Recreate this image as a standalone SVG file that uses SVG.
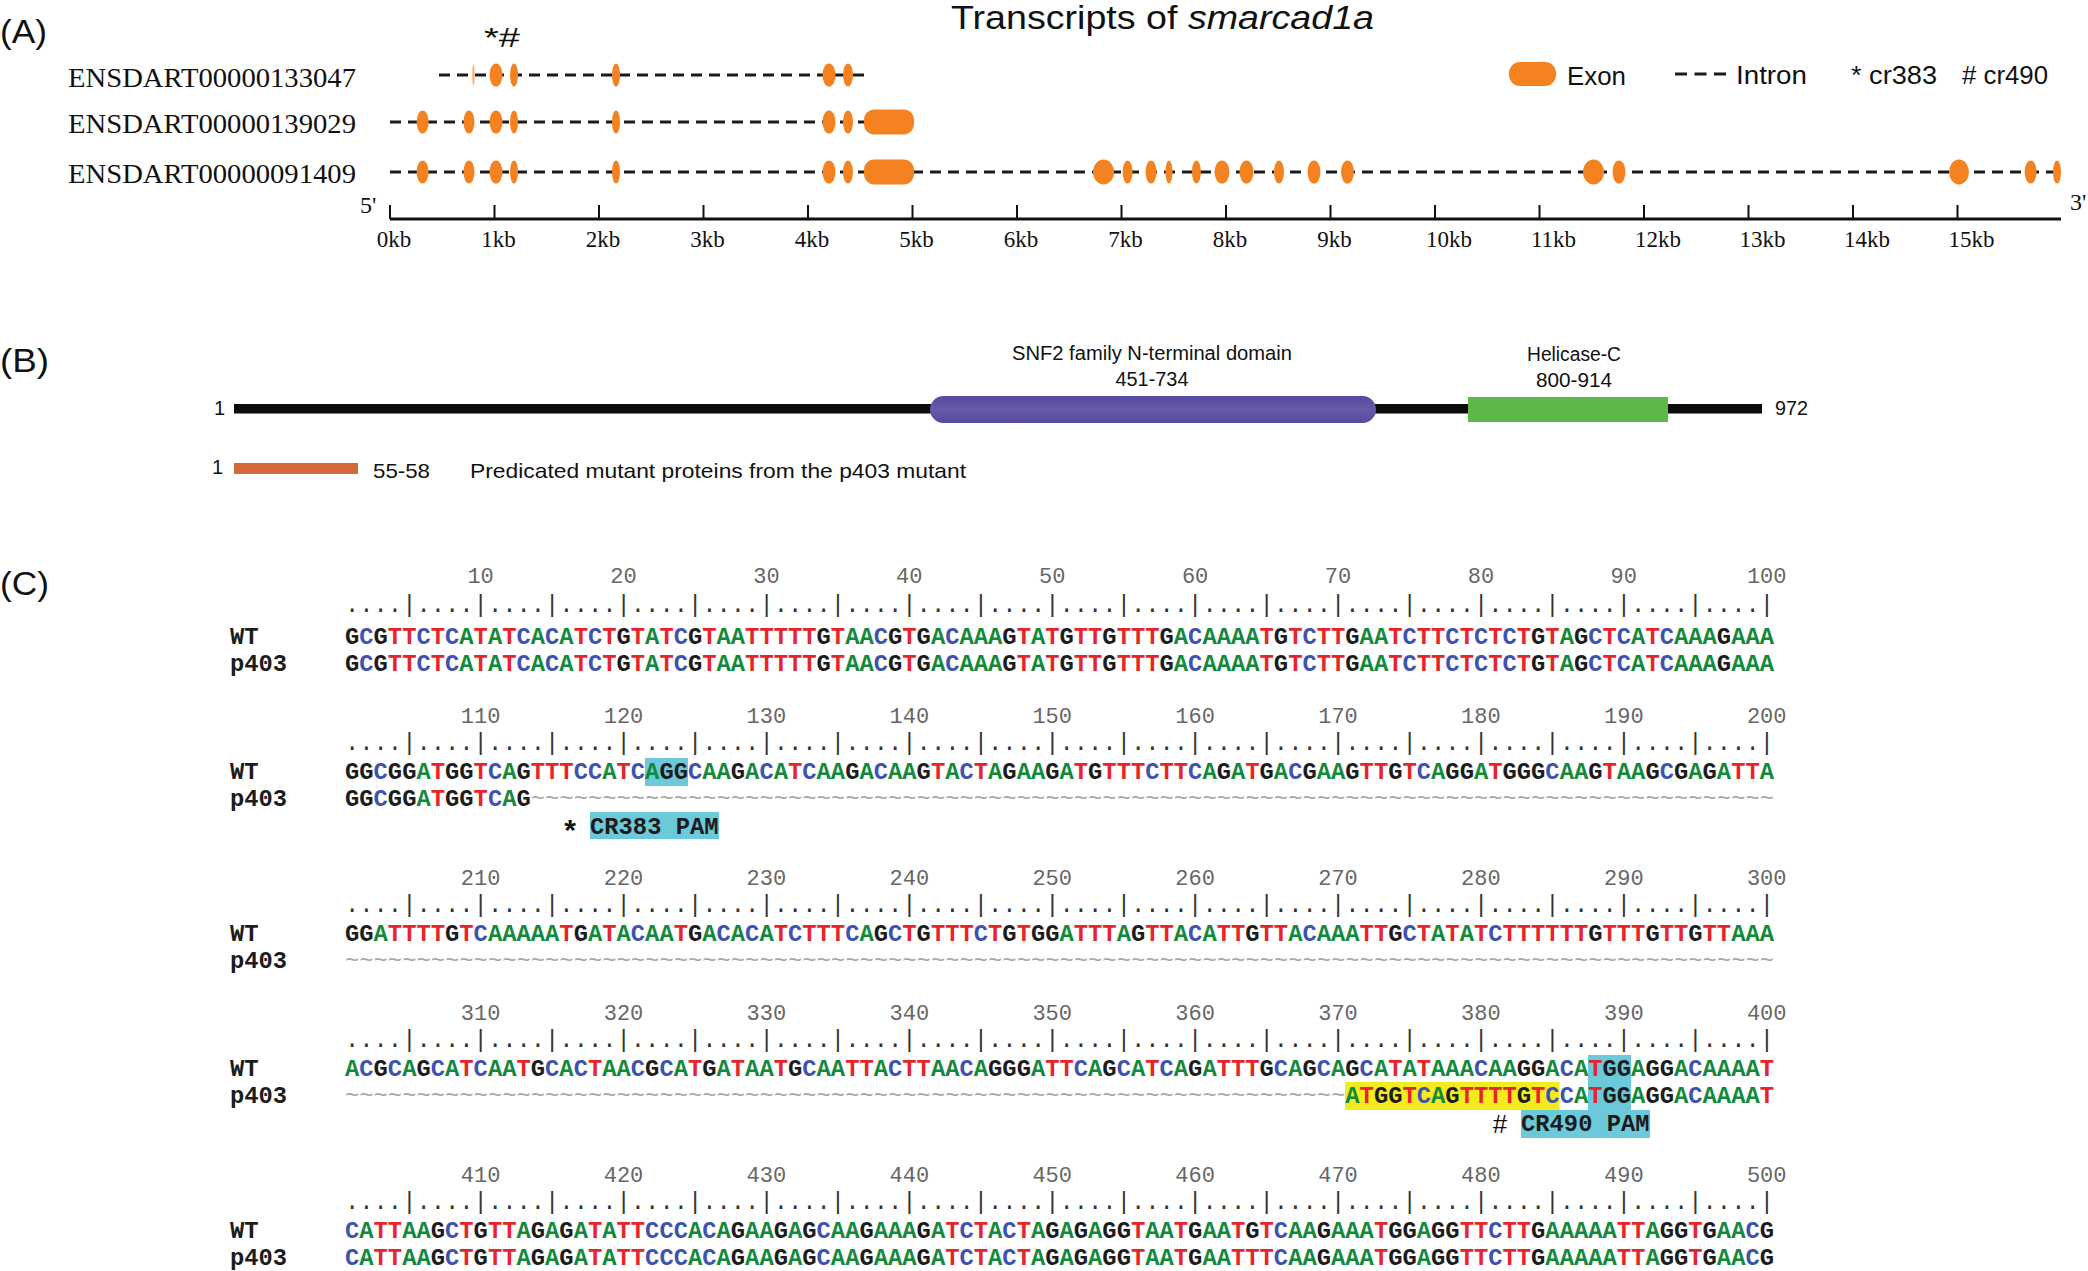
<svg xmlns="http://www.w3.org/2000/svg" width="2088" height="1271" viewBox="0 0 2088 1271">
<defs>
<style>
.pl{font-family:"Liberation Sans",Arial,sans-serif;font-size:34px;fill:#111}
.cd{font-family:"Liberation Sans Narrow","Liberation Sans",Arial,sans-serif;fill:#111}
.sf{font-family:"Liberation Serif","Times New Roman",serif;fill:#111}
.dash{stroke:#1a1a1a;stroke-width:3;stroke-dasharray:11 7;fill:none}
.ex{fill:#f58220}
.sq{font-family:"Liberation Mono","Courier New",monospace;font-weight:bold;font-size:23.8px;fill:#1c1c1c}
.lab{font-family:"Liberation Mono","Courier New",monospace;font-weight:bold;font-size:23.8px;fill:#1c1c1c}
.rul{font-family:"Liberation Mono","Courier New",monospace;font-size:23.8px;fill:#333}
.num{font-family:"Liberation Mono","Courier New",monospace;font-size:22px;fill:#666;text-anchor:middle}
.a{fill:#13893b}.c{fill:#3d52b1}.t{fill:#e8232a}.n{fill:#a9a9a9;font-weight:normal}
.hc{fill:#6cc9da}.hy{fill:#f3eb1e}
</style>
<linearGradient id="pur" x1="0" y1="0" x2="0" y2="1">
<stop offset="0" stop-color="#524c9e"/><stop offset="0.5" stop-color="#6b58aa"/><stop offset="1" stop-color="#524c9e"/>
</linearGradient>
</defs>
<rect width="2088" height="1271" fill="#fff"/>

<g id="panelA">
<text class="pl" x="0" y="43" textLength="47" lengthAdjust="spacingAndGlyphs">(A)</text>
<text class="cd" x="951" y="29" font-size="33" textLength="423" lengthAdjust="spacingAndGlyphs">Transcripts of <tspan font-style="italic">smarcad1a</tspan></text>
<g id="legend">
<rect class="ex" x="1509" y="62" width="47" height="24" rx="11"/>
<text class="cd" x="1567" y="85" font-size="26" textLength="59" lengthAdjust="spacingAndGlyphs">Exon</text>
<line x1="1675" y1="74" x2="1727" y2="74" stroke="#1a1a1a" stroke-width="3" stroke-dasharray="12 7.5"/>
<text class="cd" x="1736" y="84" font-size="26" textLength="71" lengthAdjust="spacingAndGlyphs">Intron</text>
<text class="cd" x="1851" y="84" font-size="26" textLength="86" lengthAdjust="spacingAndGlyphs">* cr383</text>
<text class="cd" x="1962" y="84" font-size="26" textLength="86" lengthAdjust="spacingAndGlyphs"># cr490</text>
</g>
<text class="cd" x="484" y="47" font-size="28" textLength="36" lengthAdjust="spacingAndGlyphs">*#</text>

<g id="tx1">
<text class="sf" x="68" y="87" font-size="28" textLength="288" lengthAdjust="spacingAndGlyphs">ENSDART00000133047</text>
<line class="dash" x1="439" y1="75" x2="864" y2="75"/>
<ellipse class="ex" cx="473.5" cy="75" rx="1.3" ry="11" opacity="0.6"/>
<ellipse class="ex" cx="496" cy="75" rx="6.5" ry="11.5"/>
<ellipse class="ex" cx="514" cy="75" rx="4" ry="11.5"/>
<ellipse class="ex" cx="616" cy="75" rx="4" ry="11.5"/>
<ellipse class="ex" cx="829" cy="75" rx="6.5" ry="11.5"/>
<ellipse class="ex" cx="848" cy="75" rx="5" ry="11.5"/>
</g>
<g id="tx2">
<text class="sf" x="68" y="133" font-size="28" textLength="288" lengthAdjust="spacingAndGlyphs">ENSDART00000139029</text>
<line class="dash" x1="390" y1="122" x2="866" y2="122"/>
<ellipse class="ex" cx="422.6" cy="122" rx="6" ry="11.5"/>
<ellipse class="ex" cx="469" cy="122" rx="5.5" ry="11.5"/>
<ellipse class="ex" cx="496" cy="122" rx="6.5" ry="11.5"/>
<ellipse class="ex" cx="514" cy="122" rx="4" ry="11.5"/>
<ellipse class="ex" cx="616" cy="122" rx="4" ry="11.5"/>
<ellipse class="ex" cx="829" cy="122" rx="6.5" ry="11.5"/>
<ellipse class="ex" cx="848" cy="122" rx="5" ry="11.5"/>
<rect class="ex" x="864" y="109.5" width="50" height="25" rx="10"/>
</g>
<g id="tx3">
<text class="sf" x="68" y="183" font-size="28" textLength="288" lengthAdjust="spacingAndGlyphs">ENSDART00000091409</text>
<line class="dash" x1="390" y1="172" x2="2057" y2="172"/>
<ellipse class="ex" cx="422.6" cy="172" rx="6" ry="11.5"/>
<ellipse class="ex" cx="469" cy="172" rx="5.5" ry="11.5"/>
<ellipse class="ex" cx="496" cy="172" rx="6.5" ry="11.5"/>
<ellipse class="ex" cx="514" cy="172" rx="4" ry="11.5"/>
<ellipse class="ex" cx="616" cy="172" rx="4" ry="11.5"/>
<ellipse class="ex" cx="829" cy="172" rx="6.5" ry="11.5"/>
<ellipse class="ex" cx="848" cy="172" rx="5" ry="11.5"/>
<rect class="ex" x="864" y="159.5" width="50" height="25" rx="10"/>
<ellipse class="ex" cx="1103.5" cy="172" rx="10.5" ry="12.5"/>
<ellipse class="ex" cx="1127.6" cy="172" rx="5" ry="11.5"/>
<ellipse class="ex" cx="1151" cy="172" rx="5.5" ry="11.5"/>
<ellipse class="ex" cx="1169" cy="172" rx="3.5" ry="11.5"/>
<ellipse class="ex" cx="1196.4" cy="172" rx="4.5" ry="11.5"/>
<ellipse class="ex" cx="1222" cy="172" rx="7.5" ry="11.5"/>
<ellipse class="ex" cx="1246.5" cy="172" rx="7" ry="11.5"/>
<ellipse class="ex" cx="1279" cy="172" rx="5" ry="11.5"/>
<ellipse class="ex" cx="1314" cy="172" rx="6.5" ry="11.5"/>
<ellipse class="ex" cx="1347.5" cy="172" rx="6.5" ry="11.5"/>
<ellipse class="ex" cx="1593.5" cy="172" rx="10.5" ry="12.5"/>
<ellipse class="ex" cx="1619" cy="172" rx="6.5" ry="11.5"/>
<ellipse class="ex" cx="1959" cy="172" rx="10" ry="12.5"/>
<ellipse class="ex" cx="2030.6" cy="172" rx="6" ry="11.5"/>
<ellipse class="ex" cx="2057" cy="172" rx="4" ry="11.5"/>
</g>
<g id="axis">
<text class="sf" x="360" y="213" font-size="24">5'</text>
<text class="sf" x="2070" y="210" font-size="24">3'</text>
<line x1="390" y1="219" x2="2061" y2="219" stroke="#111" stroke-width="3"/>
<path d="M390 205V219M494.5 205V219M599 205V219M703.5 205V219M808 205V219M912.5 205V219M1017 205V219M1121.5 205V219M1226 205V219M1330.5 205V219M1435 205V219M1539.5 205V219M1644 205V219M1748.5 205V219M1853 205V219M1957.5 205V219" stroke="#111" stroke-width="2"/>
<g class="sf" font-size="23" text-anchor="middle">
<text x="394" y="247">0kb</text><text x="498.5" y="247">1kb</text><text x="603" y="247">2kb</text><text x="707.5" y="247">3kb</text><text x="812" y="247">4kb</text><text x="916.5" y="247">5kb</text><text x="1021" y="247">6kb</text><text x="1125.5" y="247">7kb</text><text x="1230" y="247">8kb</text><text x="1334.5" y="247">9kb</text><text x="1449" y="247">10kb</text><text x="1553.5" y="247">11kb</text><text x="1658" y="247">12kb</text><text x="1762.5" y="247">13kb</text><text x="1867" y="247">14kb</text><text x="1971.5" y="247">15kb</text>
</g>
</g>
</g>

<g id="panelB">
<text class="pl" x="0" y="372" textLength="49" lengthAdjust="spacingAndGlyphs">(B)</text>
<text class="cd" x="1152" y="360" font-size="20" text-anchor="middle" textLength="280" lengthAdjust="spacingAndGlyphs">SNF2 family N-terminal domain</text>
<text class="cd" x="1152" y="386" font-size="20" text-anchor="middle" textLength="73" lengthAdjust="spacingAndGlyphs">451-734</text>
<text class="cd" x="1574" y="361" font-size="20" text-anchor="middle" textLength="94" lengthAdjust="spacingAndGlyphs">Helicase-C</text>
<text class="cd" x="1574" y="387" font-size="20" text-anchor="middle" textLength="76" lengthAdjust="spacingAndGlyphs">800-914</text>
<text class="cd" x="214" y="415" font-size="20">1</text>
<rect x="234" y="404" width="1528" height="9.5" fill="#0b0b0b"/>
<rect id="snf2" x="930" y="396" width="446" height="27" rx="13.5" fill="url(#pur)"/>
<rect id="helicase" x="1468" y="397" width="200" height="25" fill="#5cb947"/>
<text class="cd" x="1775" y="415" font-size="20" textLength="33" lengthAdjust="spacingAndGlyphs">972</text>
<text class="cd" x="212" y="474" font-size="20">1</text>
<rect x="234" y="463" width="124" height="11" fill="#d3693a"/>
<text class="cd" x="373" y="478" font-size="21" textLength="57" lengthAdjust="spacingAndGlyphs">55-58</text>
<text class="cd" x="470" y="478" font-size="21" textLength="496" lengthAdjust="spacingAndGlyphs">Predicated mutant proteins from the p403 mutant</text>
</g>

<g id="panelC">
<text class="pl" x="0" y="595" textLength="49" lengthAdjust="spacingAndGlyphs">(C)</text>
<g id="highlights">
<rect class="hc" x="645" y="758" width="43" height="28"/>
<rect class="hc" x="590" y="812" width="129" height="27"/>
<rect class="hy" x="1345" y="1082" width="214.5" height="28"/>
<rect class="hc" x="1588" y="1055" width="43" height="56"/>
<rect class="hc" x="1521" y="1110" width="129" height="28"/>
</g>

<g id="block1">
<g class="num"><text x="480.6" y="583">10</text><text x="623.5" y="583">20</text><text x="766.4" y="583">30</text><text x="909.3" y="583">40</text><text x="1052.2" y="583">50</text><text x="1195.1" y="583">60</text><text x="1338" y="583">70</text><text x="1480.9" y="583">80</text><text x="1623.8" y="583">90</text><text x="1766.7" y="583">100</text></g>
<text class="rul" x="345" y="612" textLength="1429" lengthAdjust="spacing">....|....|....|....|....|....|....|....|....|....|....|....|....|....|....|....|....|....|....|....|</text>
<text class="lab" x="230" y="644">WT</text>
<text class="lab" x="230" y="671">p403</text>
<text class="sq" x="345" y="644" textLength="1429" lengthAdjust="spacing">G<tspan class="c">C</tspan>G<tspan class="t">TT</tspan><tspan class="c">C</tspan><tspan class="t">T</tspan><tspan class="c">C</tspan><tspan class="a">A</tspan><tspan class="t">T</tspan><tspan class="a">A</tspan><tspan class="t">T</tspan><tspan class="c">C</tspan><tspan class="a">A</tspan><tspan class="c">C</tspan><tspan class="a">A</tspan><tspan class="t">T</tspan><tspan class="c">C</tspan><tspan class="t">T</tspan>G<tspan class="t">T</tspan><tspan class="a">A</tspan><tspan class="t">T</tspan><tspan class="c">C</tspan>G<tspan class="t">T</tspan><tspan class="a">AA</tspan><tspan class="t">TTTTT</tspan>G<tspan class="t">T</tspan><tspan class="a">AA</tspan><tspan class="c">C</tspan>G<tspan class="t">T</tspan>G<tspan class="a">A</tspan><tspan class="c">C</tspan><tspan class="a">AAA</tspan>G<tspan class="t">T</tspan><tspan class="a">A</tspan><tspan class="t">T</tspan>G<tspan class="t">TT</tspan>G<tspan class="t">TTT</tspan>G<tspan class="a">A</tspan><tspan class="c">C</tspan><tspan class="a">AAAA</tspan><tspan class="t">T</tspan>G<tspan class="t">T</tspan><tspan class="c">C</tspan><tspan class="t">TT</tspan>G<tspan class="a">AA</tspan><tspan class="t">T</tspan><tspan class="c">C</tspan><tspan class="t">TT</tspan><tspan class="c">C</tspan><tspan class="t">T</tspan><tspan class="c">C</tspan><tspan class="t">T</tspan><tspan class="c">C</tspan><tspan class="t">T</tspan>G<tspan class="t">T</tspan><tspan class="a">A</tspan>G<tspan class="c">C</tspan><tspan class="t">T</tspan><tspan class="c">C</tspan><tspan class="a">A</tspan><tspan class="t">T</tspan><tspan class="c">C</tspan><tspan class="a">AAA</tspan>G<tspan class="a">AAA</tspan></text>
<text class="sq" x="345" y="671" textLength="1429" lengthAdjust="spacing">G<tspan class="c">C</tspan>G<tspan class="t">TT</tspan><tspan class="c">C</tspan><tspan class="t">T</tspan><tspan class="c">C</tspan><tspan class="a">A</tspan><tspan class="t">T</tspan><tspan class="a">A</tspan><tspan class="t">T</tspan><tspan class="c">C</tspan><tspan class="a">A</tspan><tspan class="c">C</tspan><tspan class="a">A</tspan><tspan class="t">T</tspan><tspan class="c">C</tspan><tspan class="t">T</tspan>G<tspan class="t">T</tspan><tspan class="a">A</tspan><tspan class="t">T</tspan><tspan class="c">C</tspan>G<tspan class="t">T</tspan><tspan class="a">AA</tspan><tspan class="t">TTTTT</tspan>G<tspan class="t">T</tspan><tspan class="a">AA</tspan><tspan class="c">C</tspan>G<tspan class="t">T</tspan>G<tspan class="a">A</tspan><tspan class="c">C</tspan><tspan class="a">AAA</tspan>G<tspan class="t">T</tspan><tspan class="a">A</tspan><tspan class="t">T</tspan>G<tspan class="t">TT</tspan>G<tspan class="t">TTT</tspan>G<tspan class="a">A</tspan><tspan class="c">C</tspan><tspan class="a">AAAA</tspan><tspan class="t">T</tspan>G<tspan class="t">T</tspan><tspan class="c">C</tspan><tspan class="t">TT</tspan>G<tspan class="a">AA</tspan><tspan class="t">T</tspan><tspan class="c">C</tspan><tspan class="t">TT</tspan><tspan class="c">C</tspan><tspan class="t">T</tspan><tspan class="c">C</tspan><tspan class="t">T</tspan><tspan class="c">C</tspan><tspan class="t">T</tspan>G<tspan class="t">T</tspan><tspan class="a">A</tspan>G<tspan class="c">C</tspan><tspan class="t">T</tspan><tspan class="c">C</tspan><tspan class="a">A</tspan><tspan class="t">T</tspan><tspan class="c">C</tspan><tspan class="a">AAA</tspan>G<tspan class="a">AAA</tspan></text>
</g>

<g id="block2">
<g class="num"><text x="480.6" y="723">110</text><text x="623.5" y="723">120</text><text x="766.4" y="723">130</text><text x="909.3" y="723">140</text><text x="1052.2" y="723">150</text><text x="1195.1" y="723">160</text><text x="1338" y="723">170</text><text x="1480.9" y="723">180</text><text x="1623.8" y="723">190</text><text x="1766.7" y="723">200</text></g>
<text class="rul" x="345" y="750" textLength="1429" lengthAdjust="spacing">....|....|....|....|....|....|....|....|....|....|....|....|....|....|....|....|....|....|....|....|</text>
<text class="lab" x="230" y="779">WT</text>
<text class="lab" x="230" y="806">p403</text>
<text class="sq" x="345" y="779" textLength="1429" lengthAdjust="spacing">GG<tspan class="c">C</tspan>GG<tspan class="a">A</tspan><tspan class="t">T</tspan>GG<tspan class="t">T</tspan><tspan class="c">C</tspan><tspan class="a">A</tspan>G<tspan class="t">TTT</tspan><tspan class="c">CC</tspan><tspan class="a">A</tspan><tspan class="t">T</tspan><tspan class="c">C</tspan><tspan class="a">A</tspan>GG<tspan class="c">C</tspan><tspan class="a">AA</tspan>G<tspan class="a">A</tspan><tspan class="c">C</tspan><tspan class="a">A</tspan><tspan class="t">T</tspan><tspan class="c">C</tspan><tspan class="a">AA</tspan>G<tspan class="a">A</tspan><tspan class="c">C</tspan><tspan class="a">AA</tspan>G<tspan class="t">T</tspan><tspan class="a">A</tspan><tspan class="c">C</tspan><tspan class="t">T</tspan><tspan class="a">A</tspan>G<tspan class="a">AA</tspan>G<tspan class="a">A</tspan><tspan class="t">T</tspan>G<tspan class="t">TTT</tspan><tspan class="c">C</tspan><tspan class="t">TT</tspan><tspan class="c">C</tspan><tspan class="a">A</tspan>G<tspan class="a">A</tspan><tspan class="t">T</tspan>G<tspan class="a">A</tspan><tspan class="c">C</tspan>G<tspan class="a">AA</tspan>G<tspan class="t">TT</tspan>G<tspan class="t">T</tspan><tspan class="c">C</tspan><tspan class="a">A</tspan>GG<tspan class="a">A</tspan><tspan class="t">T</tspan>GGG<tspan class="c">C</tspan><tspan class="a">AA</tspan>G<tspan class="t">T</tspan><tspan class="a">AA</tspan>G<tspan class="c">C</tspan>G<tspan class="a">A</tspan>G<tspan class="a">A</tspan><tspan class="t">TT</tspan><tspan class="a">A</tspan></text>
<text class="sq" x="345" y="806" textLength="1429" lengthAdjust="spacing">GG<tspan class="c">C</tspan>GG<tspan class="a">A</tspan><tspan class="t">T</tspan>GG<tspan class="t">T</tspan><tspan class="c">C</tspan><tspan class="a">A</tspan>G<tspan class="n">~~~~~~~~~~~~~~~~~~~~~~~~~~~~~~~~~~~~~~~~~~~~~~~~~~~~~~~~~~~~~~~~~~~~~~~~~~~~~~~~~~~~~~~</tspan></text>
<text class="cd" x="570" y="840" font-size="30" font-weight="bold" text-anchor="middle">*</text>
<text class="lab" x="590" y="834" textLength="128.6" lengthAdjust="spacing" fill="#222">CR383 PAM</text>
</g>

<g id="block3">
<g class="num"><text x="480.6" y="885">210</text><text x="623.5" y="885">220</text><text x="766.4" y="885">230</text><text x="909.3" y="885">240</text><text x="1052.2" y="885">250</text><text x="1195.1" y="885">260</text><text x="1338" y="885">270</text><text x="1480.9" y="885">280</text><text x="1623.8" y="885">290</text><text x="1766.7" y="885">300</text></g>
<text class="rul" x="345" y="912" textLength="1429" lengthAdjust="spacing">....|....|....|....|....|....|....|....|....|....|....|....|....|....|....|....|....|....|....|....|</text>
<text class="lab" x="230" y="941">WT</text>
<text class="lab" x="230" y="968">p403</text>
<text class="sq" x="345" y="941" textLength="1429" lengthAdjust="spacing">GG<tspan class="a">A</tspan><tspan class="t">TTTT</tspan>G<tspan class="t">T</tspan><tspan class="c">C</tspan><tspan class="a">AAAAA</tspan><tspan class="t">T</tspan>G<tspan class="a">A</tspan><tspan class="t">T</tspan><tspan class="a">A</tspan><tspan class="c">C</tspan><tspan class="a">AA</tspan><tspan class="t">T</tspan>G<tspan class="a">A</tspan><tspan class="c">C</tspan><tspan class="a">A</tspan><tspan class="c">C</tspan><tspan class="a">A</tspan><tspan class="t">T</tspan><tspan class="c">C</tspan><tspan class="t">TTT</tspan><tspan class="c">C</tspan><tspan class="a">A</tspan>G<tspan class="c">C</tspan><tspan class="t">T</tspan>G<tspan class="t">TTT</tspan><tspan class="c">C</tspan><tspan class="t">T</tspan>G<tspan class="t">T</tspan>GG<tspan class="a">A</tspan><tspan class="t">TTT</tspan><tspan class="a">A</tspan>G<tspan class="t">TT</tspan><tspan class="a">A</tspan><tspan class="c">C</tspan><tspan class="a">A</tspan><tspan class="t">TT</tspan>G<tspan class="t">TT</tspan><tspan class="a">A</tspan><tspan class="c">C</tspan><tspan class="a">AAA</tspan><tspan class="t">TT</tspan>G<tspan class="c">C</tspan><tspan class="t">T</tspan><tspan class="a">A</tspan><tspan class="t">T</tspan><tspan class="a">A</tspan><tspan class="t">T</tspan><tspan class="c">C</tspan><tspan class="t">TTTTTT</tspan>G<tspan class="t">TTT</tspan>G<tspan class="t">TT</tspan>G<tspan class="t">TT</tspan><tspan class="a">AAA</tspan></text>
<text class="sq" x="345" y="968" textLength="1429" lengthAdjust="spacing"><tspan class="n">~~~~~~~~~~~~~~~~~~~~~~~~~~~~~~~~~~~~~~~~~~~~~~~~~~~~~~~~~~~~~~~~~~~~~~~~~~~~~~~~~~~~~~~~~~~~~~~~~~~~</tspan></text>
</g>

<g id="block4">
<g class="num"><text x="480.6" y="1020">310</text><text x="623.5" y="1020">320</text><text x="766.4" y="1020">330</text><text x="909.3" y="1020">340</text><text x="1052.2" y="1020">350</text><text x="1195.1" y="1020">360</text><text x="1338" y="1020">370</text><text x="1480.9" y="1020">380</text><text x="1623.8" y="1020">390</text><text x="1766.7" y="1020">400</text></g>
<text class="rul" x="345" y="1047" textLength="1429" lengthAdjust="spacing">....|....|....|....|....|....|....|....|....|....|....|....|....|....|....|....|....|....|....|....|</text>
<text class="lab" x="230" y="1076">WT</text>
<text class="lab" x="230" y="1103">p403</text>
<text class="sq" x="345" y="1076" textLength="1429" lengthAdjust="spacing"><tspan class="a">A</tspan><tspan class="c">C</tspan>G<tspan class="c">C</tspan><tspan class="a">A</tspan>G<tspan class="c">C</tspan><tspan class="a">A</tspan><tspan class="t">T</tspan><tspan class="c">C</tspan><tspan class="a">AA</tspan><tspan class="t">T</tspan>G<tspan class="c">C</tspan><tspan class="a">A</tspan><tspan class="c">C</tspan><tspan class="t">T</tspan><tspan class="a">AA</tspan><tspan class="c">C</tspan>G<tspan class="c">C</tspan><tspan class="a">A</tspan><tspan class="t">T</tspan>G<tspan class="a">A</tspan><tspan class="t">T</tspan><tspan class="a">AA</tspan><tspan class="t">T</tspan>G<tspan class="c">C</tspan><tspan class="a">AA</tspan><tspan class="t">TT</tspan><tspan class="a">A</tspan><tspan class="c">C</tspan><tspan class="t">TT</tspan><tspan class="a">AA</tspan><tspan class="c">C</tspan><tspan class="a">A</tspan>GGG<tspan class="a">A</tspan><tspan class="t">TT</tspan><tspan class="c">C</tspan><tspan class="a">A</tspan>G<tspan class="c">C</tspan><tspan class="a">A</tspan><tspan class="t">T</tspan><tspan class="c">C</tspan><tspan class="a">A</tspan>G<tspan class="a">A</tspan><tspan class="t">TTT</tspan>G<tspan class="c">C</tspan><tspan class="a">A</tspan>G<tspan class="c">C</tspan><tspan class="a">A</tspan>G<tspan class="c">C</tspan><tspan class="a">A</tspan><tspan class="t">T</tspan><tspan class="a">A</tspan><tspan class="t">T</tspan><tspan class="a">AAA</tspan><tspan class="c">C</tspan><tspan class="a">AA</tspan>GG<tspan class="a">A</tspan><tspan class="c">C</tspan><tspan class="a">A</tspan><tspan class="t">T</tspan>GG<tspan class="a">A</tspan>GG<tspan class="a">A</tspan><tspan class="c">C</tspan><tspan class="a">AAAA</tspan><tspan class="t">T</tspan></text>
<text class="sq" x="345" y="1103" textLength="1429" lengthAdjust="spacing"><tspan class="n">~~~~~~~~~~~~~~~~~~~~~~~~~~~~~~~~~~~~~~~~~~~~~~~~~~~~~~~~~~~~~~~~~~~~~~</tspan><tspan class="a">A</tspan><tspan class="t">T</tspan>GG<tspan class="t">T</tspan><tspan class="c">C</tspan><tspan class="a">A</tspan>G<tspan class="t">TTTT</tspan>G<tspan class="t">T</tspan><tspan class="c">CC</tspan><tspan class="a">A</tspan><tspan class="t">T</tspan>GG<tspan class="a">A</tspan>GG<tspan class="a">A</tspan><tspan class="c">C</tspan><tspan class="a">AAAA</tspan><tspan class="t">T</tspan></text>
<text class="cd" x="1500" y="1133" font-size="26" text-anchor="middle">#</text>
<text class="lab" x="1521" y="1131" textLength="128.6" lengthAdjust="spacing" fill="#222">CR490 PAM</text>
</g>

<g id="block5">
<g class="num"><text x="480.6" y="1182">410</text><text x="623.5" y="1182">420</text><text x="766.4" y="1182">430</text><text x="909.3" y="1182">440</text><text x="1052.2" y="1182">450</text><text x="1195.1" y="1182">460</text><text x="1338" y="1182">470</text><text x="1480.9" y="1182">480</text><text x="1623.8" y="1182">490</text><text x="1766.7" y="1182">500</text></g>
<text class="rul" x="345" y="1209" textLength="1429" lengthAdjust="spacing">....|....|....|....|....|....|....|....|....|....|....|....|....|....|....|....|....|....|....|....|</text>
<text class="lab" x="230" y="1238">WT</text>
<text class="lab" x="230" y="1265">p403</text>
<text class="sq" x="345" y="1238" textLength="1429" lengthAdjust="spacing"><tspan class="c">C</tspan><tspan class="a">A</tspan><tspan class="t">TT</tspan><tspan class="a">AA</tspan>G<tspan class="c">C</tspan><tspan class="t">T</tspan>G<tspan class="t">TT</tspan><tspan class="a">A</tspan>G<tspan class="a">A</tspan>G<tspan class="a">A</tspan><tspan class="t">T</tspan><tspan class="a">A</tspan><tspan class="t">TT</tspan><tspan class="c">CCC</tspan><tspan class="a">A</tspan><tspan class="c">C</tspan><tspan class="a">A</tspan>G<tspan class="a">AA</tspan>G<tspan class="a">A</tspan>G<tspan class="c">C</tspan><tspan class="a">AA</tspan>G<tspan class="a">AAA</tspan>G<tspan class="a">A</tspan><tspan class="t">T</tspan><tspan class="c">C</tspan><tspan class="t">T</tspan><tspan class="a">A</tspan><tspan class="c">C</tspan><tspan class="t">T</tspan><tspan class="a">A</tspan>G<tspan class="a">A</tspan>G<tspan class="a">A</tspan>GG<tspan class="t">T</tspan><tspan class="a">AA</tspan><tspan class="t">T</tspan>G<tspan class="a">AA</tspan><tspan class="t">T</tspan>G<tspan class="t">T</tspan><tspan class="c">C</tspan><tspan class="a">AA</tspan>G<tspan class="a">AAA</tspan><tspan class="t">T</tspan>GG<tspan class="a">A</tspan>GG<tspan class="t">TT</tspan><tspan class="c">C</tspan><tspan class="t">TT</tspan>G<tspan class="a">AAAAA</tspan><tspan class="t">TT</tspan><tspan class="a">A</tspan>GG<tspan class="t">T</tspan>G<tspan class="a">AA</tspan><tspan class="c">C</tspan>G</text>
<text class="sq" x="345" y="1265" textLength="1429" lengthAdjust="spacing"><tspan class="c">C</tspan><tspan class="a">A</tspan><tspan class="t">TT</tspan><tspan class="a">AA</tspan>G<tspan class="c">C</tspan><tspan class="t">T</tspan>G<tspan class="t">TT</tspan><tspan class="a">A</tspan>G<tspan class="a">A</tspan>G<tspan class="a">A</tspan><tspan class="t">T</tspan><tspan class="a">A</tspan><tspan class="t">TT</tspan><tspan class="c">CCC</tspan><tspan class="a">A</tspan><tspan class="c">C</tspan><tspan class="a">A</tspan>G<tspan class="a">AA</tspan>G<tspan class="a">A</tspan>G<tspan class="c">C</tspan><tspan class="a">AA</tspan>G<tspan class="a">AAA</tspan>G<tspan class="a">A</tspan><tspan class="t">T</tspan><tspan class="c">C</tspan><tspan class="t">T</tspan><tspan class="a">A</tspan><tspan class="c">C</tspan><tspan class="t">T</tspan><tspan class="a">A</tspan>G<tspan class="a">A</tspan>G<tspan class="a">A</tspan>GG<tspan class="t">T</tspan><tspan class="a">AA</tspan><tspan class="t">T</tspan>G<tspan class="a">AA</tspan><tspan class="t">TTT</tspan><tspan class="c">C</tspan><tspan class="a">AA</tspan>G<tspan class="a">AAA</tspan><tspan class="t">T</tspan>GG<tspan class="a">A</tspan>GG<tspan class="t">TT</tspan><tspan class="c">C</tspan><tspan class="t">TT</tspan>G<tspan class="a">AAAAA</tspan><tspan class="t">TT</tspan><tspan class="a">A</tspan>GG<tspan class="t">T</tspan>G<tspan class="a">AA</tspan><tspan class="c">C</tspan>G</text>
</g>
<g id="connectors"/>
</g>
</svg>
